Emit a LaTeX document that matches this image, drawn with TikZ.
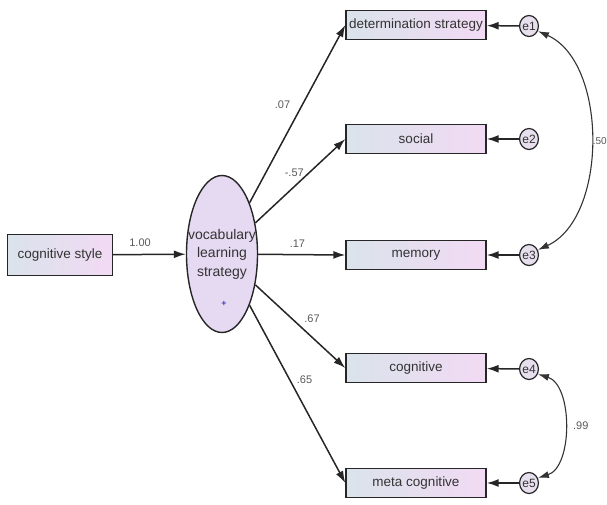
\documentclass[tikz,border=0pt]{standalone}
\usepackage{fontspec}
\setmainfont{Liberation Sans}
\usetikzlibrary{shapes.geometric,arrows.meta}
\definecolor{boxleft}{HTML}{DAE3EB}
\definecolor{boxright}{HTML}{F2DAF4}
\definecolor{latfill}{HTML}{E6DAF2}
\definecolor{errfill}{HTML}{E7DEEE}
\tikzset{
	varbox/.style={draw=black!85,line width=1.4pt,left color=boxleft,right color=boxright,
		minimum width=140pt,minimum height=29pt,inner sep=0pt,text=black!80,
		font=\fontsize{13.5}{15}\selectfont},
	errnode/.style={ellipse,draw=black!85,line width=1.2pt,fill=errfill,minimum width=18pt,
		minimum height=21pt,inner sep=0pt,text=black!80,font=\fontsize{12}{13}\selectfont},
	coef/.style={text=black!65,font=\fontsize{11}{12}\selectfont},
	regarrow/.style={line width=1.5pt,draw=black!85,-{Latex[length=12pt,width=8pt]}},
	covarrow/.style={line width=1.1pt,draw=black!80,{Latex[length=11pt,width=7pt]}-{Latex[length=11pt,width=7pt]}}
}

\begin{document}
\begin{tikzpicture}[x=1pt,y=-1pt]
		\useasboundingbox (0,0) rectangle (607,504);
		% exogenous and latent variable
		\node[varbox,minimum width=105pt,minimum height=41pt] (cogstyle) at (60,255) {cognitive style};
		\node[ellipse,draw=black!85,line width=1.4pt,fill=latfill,minimum width=71pt,minimum height=157pt,
			inner sep=0pt] (vls) at (222,254) {};
		\node[align=center,inner sep=0pt,text=black!80,font=\fontsize{14}{18.5}\selectfont] (vlstext) at (vls)
			{vocabulary\\learning\\strategy};
		\node[text=blue!70!black,font=\fontsize{9}{9}\selectfont] (plus) at (224,304) {+};
		% observed variables
		\node[varbox] (det) at (416,25) {determination strategy};
		\node[varbox] (social) at (416,139) {social};
		\node[varbox] (memory) at (416,255) {memory};
		\node[varbox] (cognitive) at (416,368) {cognitive};
		\node[varbox] (meta) at (416,483) {meta cognitive};
		% error terms
		\node[errnode] (e1) at (529,26) {e1};
		\node[errnode] (e2) at (529,139) {e2};
		\node[errnode] (e3) at (529,255) {e3};
		\node[errnode] (e4) at (529,369) {e4};
		\node[errnode] (e5) at (529,483) {e5};
		% paths
		\draw[regarrow] (cogstyle) -- (vls) node[coef,pos=0.37,above=4pt] {1.00};
		\draw[regarrow] (vls) -- (det.west) node[coef,pos=0.55,left=8pt] {.07};
		\draw[regarrow] (vls) -- (social.west) node[coef,pos=0.4,above=9pt,xshift=3pt] {-.57};
		\draw[regarrow] (vls) -- (memory.west) node[coef,pos=0.45,above=3pt] {.17};
		\draw[regarrow] (vls) -- (cognitive.west) node[coef,pos=0.5,above right=0pt] {.67};
		\draw[regarrow] (vls) -- (meta.west) node[coef,pos=0.42,right=3pt] {.65};
		\foreach \e/\v in {e1/det,e2/social,e3/memory,e4/cognitive,e5/meta} {
			\draw[regarrow] (\e) -- (\v);
		}
		% covariances
		\draw[covarrow] (e1.-30) .. controls (608,62) and (608,218) .. (e3.30);
		\node[coef,anchor=east,inner sep=0pt,font=\fontsize{10}{11}\selectfont] (c13) at (607,141) {.50};
		\draw[covarrow] (e4.-30) .. controls (573,385) and (573,467) .. (e5.30)
			node[coef,pos=0.5,right=5pt] {.99};
	\end{tikzpicture}
\end{document}
